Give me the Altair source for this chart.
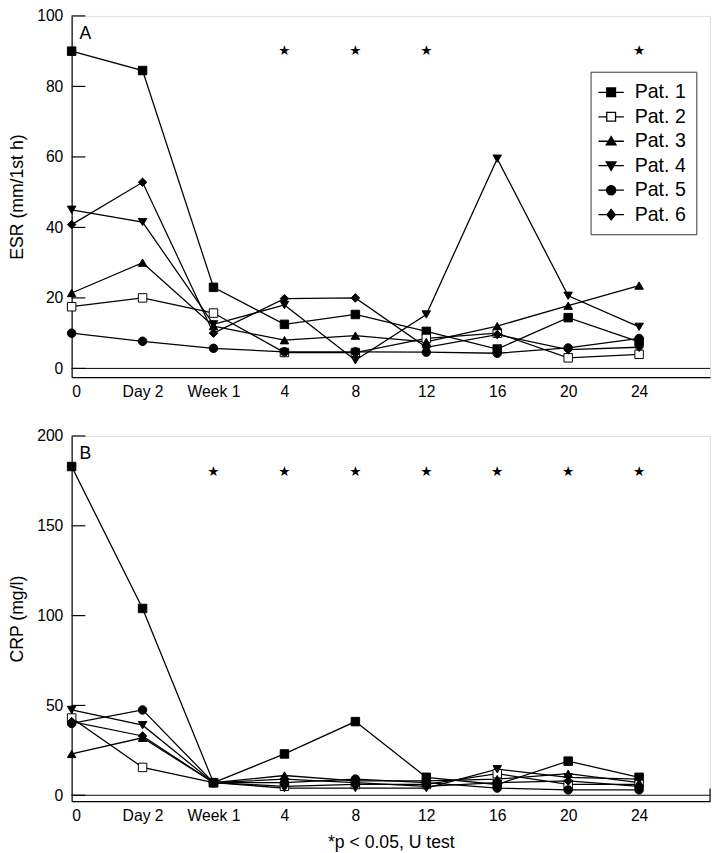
import altair as alt
import pandas as pd

# ---------------- data ----------------
timepoints = ["0", "Day 2", "Week 1", "4", "8", "12", "16", "20", "24"]
patients = ["Pat. 1", "Pat. 2", "Pat. 3", "Pat. 4", "Pat. 5", "Pat. 6"]

esr_pat1 = [90, 84.5, 23, 12.5, 15.3, 10.5, 5.5, 14.4, 7.5]
esr_pat2 = [17.5, 20, 15.7, 4.5, 4.5, 8.5, 10, 3, 4]
esr_pat3 = [21.4, 30, 12, 8, 9.3, 7.5, 12, 17.8, 23.5]
esr_pat4 = [45, 41.5, 12.5, 18, 2.3, 15.3, 59.5, 20.6, 11.8]
esr_pat5 = [10, 7.7, 5.7, 4.7, 4.7, 4.6, 4.3, 5.8, 8.5]
esr_pat6 = [40.8, 52.8, 10, 19.8, 20, 6, 9.6, 5.3, 6]

crp_pat1 = [183, 104, 7, 23, 41, 10, 6, 19, 10]
crp_pat2 = [43, 15.5, 7, 5, 6, 6, 12, 6, 6]
crp_pat3 = [23, 32, 7, 11, 8, 8, 9, 12, 7]
crp_pat4 = [47.5, 39, 7, 4, 4, 4, 14.5, 10, 9]
crp_pat5 = [40, 47.5, 7, 7, 9, 7, 4, 3, 3]
crp_pat6 = [41, 33, 7, 9, 7, 5, 7, 8, 5]

esr_star_idx = [3, 4, 5, 8]
esr_star_level = 90
crp_star_idx = [2, 3, 4, 5, 6, 7, 8]
crp_star_level = 180

esr_ticks = [0, 20, 40, 60, 80, 100]
crp_ticks = [0, 50, 100, 150, 200]

# ---------------- styles ----------------
FONT = "Liberation Sans"
shapes = ["square", "square", "triangle-up", "triangle-down", "circle", "diamond"]
fills = ["black", "white", "black", "black", "black", "black"]
legend_paths = [
    "M-1.3,0H-0.45M0.45,0H1.3M-0.45,-0.45H0.45V0.45H-0.45Z",
    "M-1.3,0H-0.45M0.45,0H1.3M-0.45,-0.45H0.45V0.45H-0.45Z",
    "M-1.3,0H1.3M0,-0.48L0.5,0.38L-0.5,0.38Z",
    "M-1.3,0H1.3M0,0.48L0.5,-0.38L-0.5,-0.38Z",
    "M-1.3,0H1.3M0.47,0A0.47,0.47 0 1,1 -0.47,0A0.47,0.47 0 1,1 0.47,0Z",
    "M-1.3,0H1.3M0,-0.55L0.42,0L0,0.55L-0.42,0Z",
]


def long_df(series):
    rows = []
    for p, vals, sh, fl in zip(patients, series, shapes, fills):
        for i, v in enumerate(vals):
            rows.append({"idx": i, "val": v, "patient": p, "shape": sh, "fill": fl})
    return pd.DataFrame(rows)


esr_df = long_df([esr_pat1, esr_pat2, esr_pat3, esr_pat4, esr_pat5, esr_pat6])
crp_df = long_df([crp_pat1, crp_pat2, crp_pat3, crp_pat4, crp_pat5, crp_pat6])

label_expr = "[" + ",".join("'" + t + "'" for t in timepoints) + "][datum.value]"

W = 652


def panel(df, star_idx, star_level, letter, ymin, ymax, yticks, ytitle, height,
          xtitle=None, legend=False, end_tick=False):
    xscale = alt.Scale(domain=[0, 9], nice=False, zero=False)
    yscale = alt.Scale(domain=[ymin, ymax], nice=False, zero=False)
    xaxis_kwargs = dict(values=list(range(9)), labelExpr=label_expr, grid=False,
                        ticks=False, domainColor="black", domainWidth=1.2,
                        labelFontSize=16, labelPadding=7, labelColor="black",
                        labelFont=FONT, titleFont=FONT, titleFontSize=18,
                        titleFontWeight="normal", titleColor="black", titlePadding=10)
    x_enc = alt.X("idx:Q", scale=xscale, axis=alt.Axis(**xaxis_kwargs),
                  title=xtitle if xtitle else None)
    y_enc = alt.Y("val:Q", scale=yscale, title=ytitle,
                  axis=alt.Axis(values=yticks, grid=False, ticks=False,
                                domainColor="black", domainWidth=1.2,
                                labelFontSize=16, labelPadding=9, labelColor="black",
                                labelFont=FONT, titleFont=FONT, titleFontSize=18,
                                titleFontWeight="normal", titleColor="black",
                                titlePadding=10))

    zero = alt.Chart(pd.DataFrame({"val": [0]})).mark_rule(
        color="black", strokeWidth=1).encode(y=y_enc)
    ticks = alt.Chart(pd.DataFrame({"val": yticks})).mark_rule(
        color="black", strokeWidth=1.2).encode(
        x=alt.value(0), x2=alt.value(14), y=y_enc)
    lines = alt.Chart(df).mark_line(color="black", strokeWidth=1.3).encode(
        x=x_enc, y=y_enc, detail="patient:N", order="idx:Q")
    points = alt.Chart(df).mark_point(
        filled=True, opacity=1, stroke="black", strokeWidth=1, size=75).encode(
        x=x_enc, y=y_enc,
        shape=alt.Shape("shape:N", scale=None),
        fill=alt.Fill("fill:N", scale=None))
    stars = alt.Chart(pd.DataFrame({"idx": star_idx, "val": [star_level] * len(star_idx)})
                      ).mark_text(text="★", font="DejaVu Sans", fontSize=14,
                                  color="black").encode(x=x_enc, y=y_enc)
    letter_mark = alt.Chart(pd.DataFrame({"idx": [0], "val": [ymax]})).mark_text(
        text=letter, align="left", baseline="top", dx=8, dy=10, fontSize=18,
        font=FONT, color="black").encode(x=x_enc, y=y_enc)

    layers = [zero, ticks, lines, points, stars, letter_mark]
    if end_tick:
        layers.append(alt.Chart(pd.DataFrame({"idx": [9]})).mark_rule(
            color="black", strokeWidth=1.2).encode(
            x=x_enc, y=alt.value(height), y2=alt.value(height - 13)))
    if legend:
        leg = alt.Legend(title=None, orient="none", legendX=530, legendY=57,
                         strokeColor="#333", padding=10, fillColor="white",
                         labelFontSize=20, labelFont=FONT, labelColor="black",
                         symbolSize=400, symbolStrokeColor="black",
                         symbolStrokeWidth=1.3, labelOffset=13, rowPadding=4)
        leg_layer = alt.Chart(pd.DataFrame({"Patient": patients})).mark_point(
            filled=True, opacity=1, stroke="black", strokeWidth=1.3).encode(
            shape=alt.Shape("Patient:N", scale=alt.Scale(domain=patients, range=legend_paths),
                            legend=leg),
            fill=alt.Fill("Patient:N", scale=alt.Scale(domain=patients, range=fills),
                          legend=leg),
        ).transform_filter("false")
        layers.append(leg_layer)
    return alt.layer(*layers).properties(width=W, height=height)


pa = panel(esr_df, esr_star_idx, esr_star_level, "A", -2.5, 100, esr_ticks,
           "ESR (mm/1st h)", 369, legend=True)
pb = panel(crp_df, crp_star_idx, crp_star_level, "B", -3.3, 200, crp_ticks,
           "CRP (mg/l)", 373, xtitle="*p < 0.05, U test", end_tick=True)

chart = alt.vconcat(pa, pb, spacing=27).properties(
    padding={"left": 0, "top": -10, "right": 0, "bottom": 0}
).configure_view(stroke=None).configure(font=FONT)

chart.save("out.html", embed_options={"renderer": "svg", "actions": False})
